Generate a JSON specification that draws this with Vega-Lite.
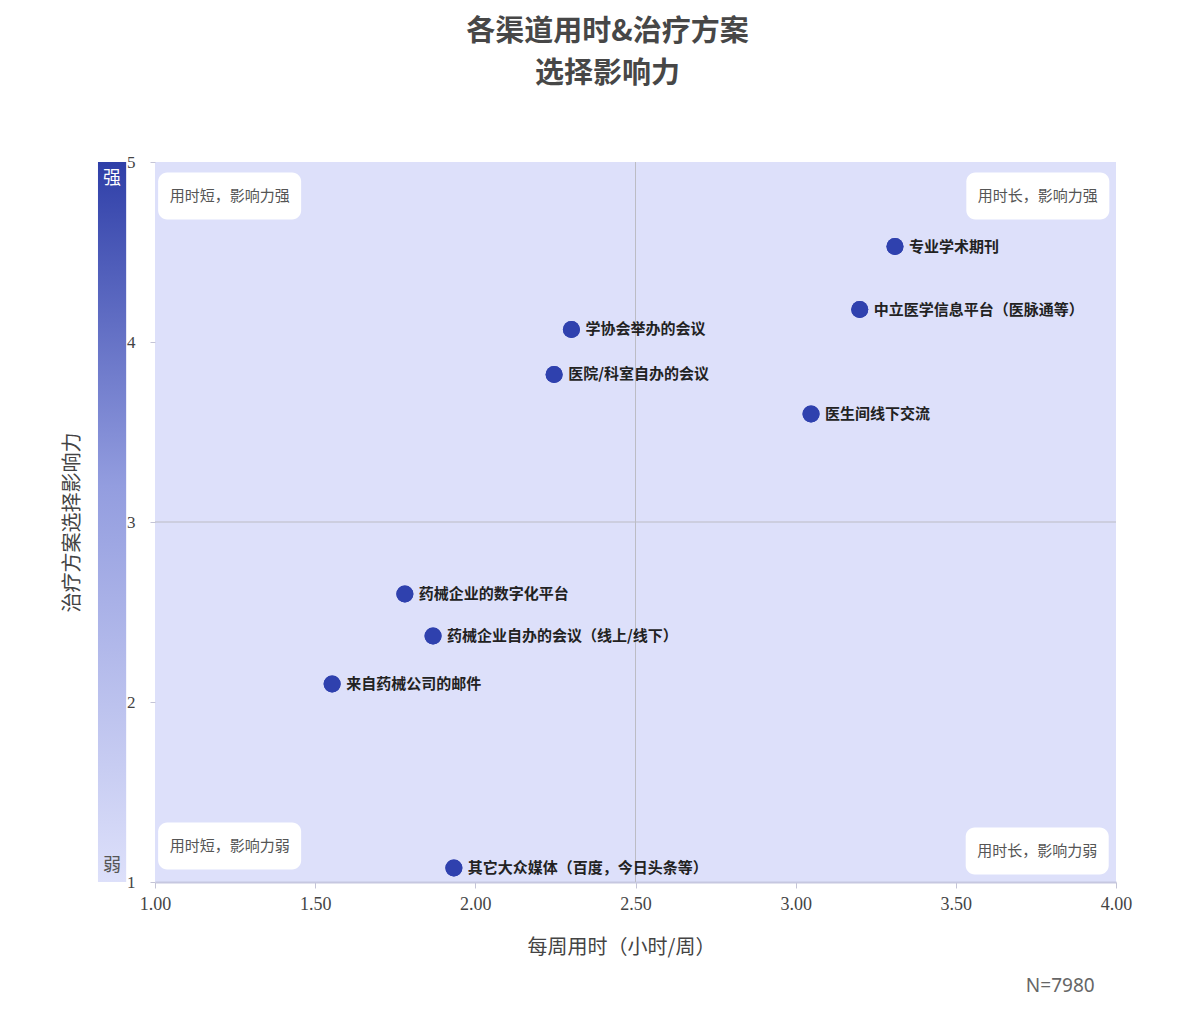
{
  "$schema": "https://vega.github.io/schema/vega-lite/v6.json",
  "width": 961,
  "height": 720,
  "autosize": {"type": "none"},
  "padding": {"left": 155, "top": 162, "right": 64, "bottom": 152},
  "background": "white",
  "title": {
    "text": ["各渠道用时&治疗方案", "选择影响力"],
    "anchor": "middle",
    "frame": "group",
    "dx": -28,
    "offset": 64,
    "fontSize": 29,
    "fontWeight": "bold",
    "color": "#474747",
    "font": "Noto Sans CJK SC",
    "lineHeight": 42
  },
  "config": {
    "view": {"fill": "#dde0fa", "stroke": null},
    "axis": {"grid": false}
  },
  "data": {"values": [{}]},
  "datasets": {
    "channels": [
      {"channel": "专业学术期刊", "hours": 3.31, "influence": 4.53},
      {"channel": "中立医学信息平台（医脉通等）", "hours": 3.20, "influence": 4.18},
      {"channel": "学协会举办的会议", "hours": 2.30, "influence": 4.07},
      {"channel": "医院/科室自办的会议", "hours": 2.246, "influence": 3.82},
      {"channel": "医生间线下交流", "hours": 3.048, "influence": 3.60},
      {"channel": "药械企业的数字化平台", "hours": 1.78, "influence": 2.60},
      {"channel": "药械企业自办的会议（线上/线下）", "hours": 1.868, "influence": 2.367},
      {"channel": "来自药械公司的邮件", "hours": 1.553, "influence": 2.10},
      {"channel": "其它大众媒体（百度，今日头条等）", "hours": 1.933, "influence": 1.078}
    ],
    "quadrants": [
      {"label": "用时短，影响力强", "qx": 1.233, "qy": 4.811},
      {"label": "用时长，影响力强", "qx": 3.756, "qy": 4.811},
      {"label": "用时短，影响力弱", "qx": 1.233, "qy": 1.2},
      {"label": "用时长，影响力弱", "qx": 3.754, "qy": 1.172}
    ]
  },
  "layer": [
    {
      "data": {"name": "channels"},
      "mark": {"type": "circle", "size": 290, "opacity": 1, "color": "#2f41ae"},
      "encoding": {
        "x": {
          "field": "hours", "type": "quantitative",
          "scale": {"domain": [1, 4], "nice": false, "zero": false},
          "axis": {
            "values": [1, 1.5, 2, 2.5, 3, 3.5, 4],
            "format": ".2f",
            "labelFont": "Liberation Serif",
            "labelFontSize": 18,
            "labelFlush": false,
            "labelColor": "#444",
            "tickColor": "#c4c4d6",
            "tickSize": 6,
            "domainColor": "#c6c7e0",
            "domainWidth": 2,
            "labelPadding": 7,
            "title": "每周用时（小时/周）",
            "titleFont": "Noto Sans CJK SC",
            "titleFontSize": 20,
            "titleFontWeight": "normal",
            "titleColor": "#444",
            "titlePadding": 24,
            "titleX": 466
          }
        },
        "y": {
          "field": "influence", "type": "quantitative",
          "scale": {"domain": [1, 5], "nice": false, "zero": false},
          "axis": {
            "values": [1, 2, 3, 4, 5],
            "format": "d",
            "labelFont": "Liberation Serif",
            "labelFontSize": 17,
            "labelColor": "#444",
            "labelFlush": false,
            "tickColor": "#c4c4d6",
            "tickSize": 5,
            "domain": false,
            "labelPadding": 15,
            "title": "治疗方案选择影响力",
            "titleFont": "Noto Sans CJK SC",
            "titleFontSize": 20,
            "titleFontWeight": "normal",
            "titleColor": "#444",
            "titlePadding": 44
          }
        }
      }
    },
    {
      "mark": {"type": "rule", "color": "#bcbcc4", "strokeWidth": 1},
      "encoding": {"x": {"datum": 2.5}}
    },
    {
      "mark": {"type": "rule", "color": "#bcbcc4", "strokeWidth": 1},
      "encoding": {"y": {"datum": 3}}
    },
    {
      "mark": {
        "type": "rect",
        "clip": false,
        "color": {
          "gradient": "linear", "x1": 0, "y1": 0, "x2": 0, "y2": 1,
          "stops": [
            {"offset": 0, "color": "#2f3fa8"},
            {"offset": 0.45, "color": "#939ddf"},
            {"offset": 1, "color": "#dde0fa"}
          ]
        }
      },
      "encoding": {
        "x": {"datum": 0.822},
        "x2": {"datum": 0.91},
        "y": {"datum": 1},
        "y2": {"datum": 5}
      }
    },
    {
      "mark": {"type": "text", "text": "强", "color": "white", "fontSize": 18, "font": "Noto Sans CJK SC", "clip": false},
      "encoding": {"x": {"datum": 0.866}, "y": {"datum": 4.905}}
    },
    {
      "mark": {"type": "text", "text": "弱", "color": "#555", "fontSize": 18, "font": "Noto Sans CJK SC", "clip": false},
      "encoding": {"x": {"datum": 0.866}, "y": {"datum": 1.089}}
    },
    {
      "mark": {"type": "text", "text": "N=7980", "color": "#666", "fontSize": 19, "font": "Noto Sans", "clip": false},
      "encoding": {"x": {"datum": 3.826}, "y": {"datum": 0.422}}
    },
    {
      "data": {"name": "channels"},
      "mark": {"type": "circle", "size": 290, "opacity": 1, "color": "#2f41ae"},
      "encoding": {
        "x": {"field": "hours", "type": "quantitative"},
        "y": {"field": "influence", "type": "quantitative"}
      }
    },
    {
      "data": {"name": "channels"},
      "mark": {"type": "text", "align": "left", "baseline": "middle", "dx": 14, "fontSize": 15, "fontWeight": "bold", "font": "Noto Sans CJK SC", "color": "#222"},
      "encoding": {
        "x": {"field": "hours", "type": "quantitative"},
        "y": {"field": "influence", "type": "quantitative"},
        "text": {"field": "channel"}
      }
    },
    {
      "data": {"name": "quadrants"},
      "mark": {
        "type": "point",
        "filled": true,
        "opacity": 1,
        "color": "white",
        "size": 20449,
        "shape": "M-0.874,-0.329 L0.874,-0.329 A0.126,0.126 0 0 1 1,-0.203 L1,0.203 A0.126,0.126 0 0 1 0.874,0.329 L-0.874,0.329 A0.126,0.126 0 0 1 -1,0.203 L-1,-0.203 A0.126,0.126 0 0 1 -0.874,-0.329 Z"
      },
      "encoding": {
        "x": {"field": "qx", "type": "quantitative"},
        "y": {"field": "qy", "type": "quantitative"}
      }
    },
    {
      "data": {"name": "quadrants"},
      "mark": {"type": "text", "fontSize": 15, "font": "Noto Sans CJK SC", "color": "#555", "baseline": "middle"},
      "encoding": {
        "x": {"field": "qx", "type": "quantitative"},
        "y": {"field": "qy", "type": "quantitative"},
        "text": {"field": "label"}
      }
    }
  ]
}
